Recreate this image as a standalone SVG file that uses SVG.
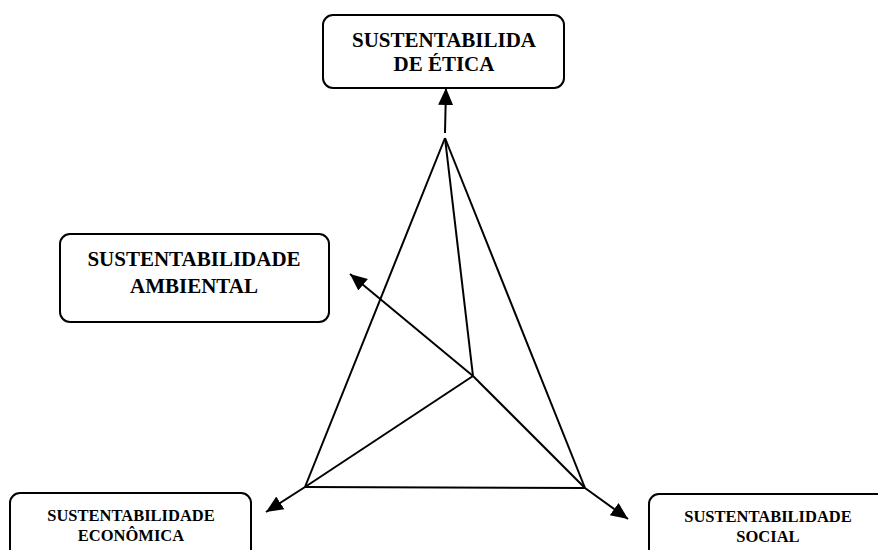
<svg xmlns="http://www.w3.org/2000/svg" width="878" height="550" viewBox="0 0 878 550">
<style>
.box{fill:#fff;stroke:#000;stroke-width:2}
.lbl{font-family:"Liberation Serif","Times New Roman",serif;font-weight:bold;fill:#000;text-anchor:middle}
.big{font-size:21px}
.small{font-size:16.5px}
.ln{stroke:#000;stroke-width:2;fill:none}
</style>
<defs>
<marker id="ah" markerUnits="userSpaceOnUse" markerWidth="18" markerHeight="18" viewBox="0 0 18 18" refX="17" refY="9" orient="auto">
<path d="M0,1.5 L17,9 L0,16.5 Z" fill="#000"/>
</marker>
</defs>
<rect width="878" height="550" fill="#fff"/>
<g id="etica">
<rect class="box" x="323" y="15" width="241" height="73" rx="10"/>
<text class="lbl big" x="444" y="47">SUSTENTABILIDA</text>
<text class="lbl big" x="444" y="71">DE ÉTICA</text>
</g>
<g id="ambiental">
<rect class="box" x="60" y="234" width="269" height="88" rx="10"/>
<text class="lbl big" x="194" y="266">SUSTENTABILIDADE</text>
<text class="lbl big" x="194" y="293">AMBIENTAL</text>
</g>
<g id="economica">
<rect class="box" x="10" y="493" width="241" height="70" rx="10"/>
<text class="lbl small" x="131" y="521">SUSTENTABILIDADE</text>
<text class="lbl small" x="131" y="541">ECONÔMICA</text>
</g>
<g id="social">
<rect class="box" x="649" y="494" width="240" height="70" rx="10"/>
<text class="lbl small" x="768" y="522">SUSTENTABILIDADE</text>
<text class="lbl small" x="768" y="542">SOCIAL</text>
</g>
<g id="connectors">
<line class="ln" x1="445" y1="138" x2="305" y2="487"/>
<line class="ln" x1="445" y1="138" x2="585" y2="488"/>
<line class="ln" x1="445" y1="138" x2="473" y2="376"/>
<line class="ln" x1="473" y1="376" x2="305" y2="487"/>
<line class="ln" x1="473" y1="376" x2="585" y2="488"/>
<line class="ln" x1="305" y1="487" x2="585" y2="488"/>
<line class="ln" x1="445" y1="133" x2="446" y2="88" marker-end="url(#ah)"/>
<line class="ln" x1="473" y1="376" x2="350" y2="274" marker-end="url(#ah)"/>
<line class="ln" x1="305" y1="487" x2="266" y2="512" marker-end="url(#ah)"/>
<line class="ln" x1="585" y1="488" x2="628" y2="519" marker-end="url(#ah)"/>
</g>
</svg>
